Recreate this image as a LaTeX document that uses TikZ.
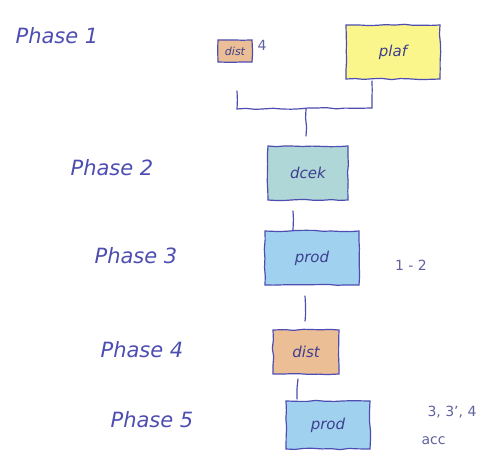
\documentclass[tikz,border=0pt]{standalone}
\usepackage{fontspec}
\setmainfont{DejaVu Sans}
\usetikzlibrary{decorations.pathmorphing,calc}
\definecolor{ink}{RGB}{78,78,178}
\definecolor{orangefill}{RGB}{236,190,150}
\definecolor{yellowfill}{RGB}{250,246,140}
\definecolor{bluefill}{RGB}{160,210,240}
\definecolor{tealfill}{RGB}{175,215,215}
\tikzset{
  x=1pt, y=-1pt,
  wobble/.style={decorate, decoration={random steps, segment length=9pt, amplitude=0.7pt}},
  phase/.style={text=ink, font=\fontsize{21}{24}\selectfont\itshape, anchor=center},
  task/.style={draw=ink, line width=1.2pt, wobble, inner sep=0pt, text=ink!80!black,
               font=\fontsize{15}{17}\selectfont\itshape},
  note/.style={text=ink!60!gray, font=\fontsize{14}{16}\selectfont},
  wire/.style={draw=ink, line width=1.2pt, wobble}
}
\begin{document}
\begin{tikzpicture}
\useasboundingbox (0,0) rectangle (485,468);
\fill[white] (0,0) rectangle (485,468);

% phase labels
\node[phase] (p1) at (57,36)  {Phase 1};
\node[phase] (p2) at (112,168) {Phase 2};
\node[phase] (p3) at (136,256) {Phase 3};
\node[phase] (p4) at (142,350) {Phase 4};
\node[phase] (p5) at (152,420) {Phase 5};

% task boxes
\node[task, fill=orangefill, minimum width=34pt, minimum height=22pt,
      font=\fontsize{11}{13}\selectfont\itshape] (dist1) at (235,51) {dist};
\node[note, anchor=west] (n4) at (254,45) {4};
\node[task, fill=yellowfill, minimum width=94pt, minimum height=54pt] (plaf) at (393,52) {plaf};
\node[task, fill=tealfill, minimum width=80pt, minimum height=54pt] (dcek) at (308,173) {dcek};
\node[task, fill=bluefill, minimum width=94pt, minimum height=54pt] (prod1) at (312,258) {prod};
\node[note] (n12) at (411,265) {1 - 2};
\node[task, fill=orangefill, minimum width=66pt, minimum height=44pt] (dist2) at (306,352) {dist};
\node[task, fill=bluefill, minimum width=84pt, minimum height=48pt] (prod2) at (328,425) {prod};
\node[note, anchor=west] (acc) at (418,441) {acc};
\node[note, anchor=west] (n33) at (424,412) {3, 3', 4};

% join of the two phase-1 tasks
\coordinate (jl) at ($(dist1.south)+(2,28)$);
\coordinate (jr) at ($(plaf.south)+(-21,1)$);
\coordinate (jm) at (306,109);
\coordinate (j2) at ($(dcek.north)+(-2,-9)$);
\draw[wire] (jl) -- (237,109) -- (372,108) -- (jr);
\draw[wire] (jm) -- (j2);

% connectors between the later phases
\draw[wire] ($(dcek.south)+(-15,10)$) -- ($(prod1.north)+(-19,0)$);
\draw[wire] ($(prod1.south)+(-7,10)$) -- ($(dist2.north)+(-1,-8)$);
\draw[wire] ($(dist2.south)+(-8,4)$) -- ($(prod2.north)+(-31,-1)$);
\end{tikzpicture}
\end{document}
